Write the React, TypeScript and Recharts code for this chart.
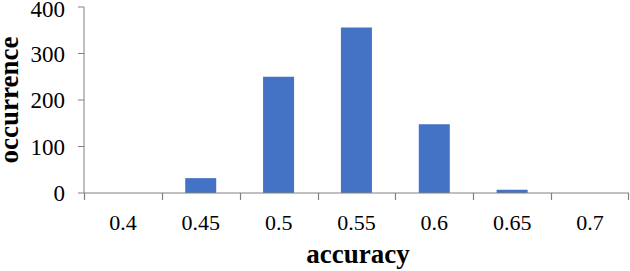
import { Bar, BarChart, Label, XAxis, YAxis } from 'recharts';

const categories = ['0.4', '0.45', '0.5', '0.55', '0.6', '0.65', '0.7'];
const occurrences = [0, 32, 250, 356, 148, 7, 0];
const yTicks = [0, 100, 200, 300, 400];

const data = categories.map((accuracy, i) => ({ accuracy, occurrence: occurrences[i] }));

const AXIS = '#808080';
const FONT = "'Liberation Serif', Tinos, 'Times New Roman', 'DejaVu Serif', serif";

// crisp 1px vertical line
const px = (v: number) => Math.round(v) + 0.5;

// x tick: label at the band centre, tick mark at the band's left edge (and right edge for the last one)
function renderCategoryTick(props: any) {
  const { x, y, payload, index } = props;
  const half = payload?.offset || 38.9;
  const last = index === categories.length - 1;
  return (
    <g key={`xt-${index}`}>
      <line x1={px(x - half)} y1={y} x2={px(x - half)} y2={y + 7} stroke={AXIS} strokeWidth={1.2} />
      {last && <line x1={px(x + half) - 1} y1={y} x2={px(x + half) - 1} y2={y + 7} stroke={AXIS} strokeWidth={1.2} />}
      <text
        x={x}
        y={y + 37}
        textAnchor="middle"
        fontFamily={FONT}
        fontSize={22}
        style={{ fontSize: 22, fontFamily: FONT, fontWeight: 'normal' }}
        fill="#000"
      >
        {payload.value}
      </text>
    </g>
  );
}

function renderYTick(props: any) {
  const { x, y, payload, index } = props;
  return (
    <text
      key={`yt-${index}`}
      x={x}
      y={y + 8}
      textAnchor="end"
      fontFamily={FONT}
      fontSize={23}
      style={{ fontSize: 23, fontFamily: FONT, fontWeight: 'normal' }}
      fill="#000"
    >
      {payload.value}
    </text>
  );
}

export default function App() {
  return (
    <div
      style={{
        position: 'fixed',
        left: 0,
        top: 0,
        width: 630,
        height: 271,
        background: '#fff',
        fontFamily: FONT,
      }}
    >
      <BarChart
        width={630}
        height={271}
        data={data}
        margin={{ top: 7, right: 1, left: 0, bottom: 0 }}
        barCategoryGap="30%"
      >
        <XAxis
          dataKey="accuracy"
          height={78}
          axisLine={{ stroke: AXIS }}
          tickLine={false}
          tickSize={0}
          tickMargin={0}
          tick={renderCategoryTick}
          interval={0}
        >
          <Label
            content={() => (
              <text
                x={358}
                y={263}
                textAnchor="middle"
                style={{ fontSize: 27, fontWeight: 'bold', fontFamily: FONT }}
                fill="#000"
              >
                accuracy
              </text>
            )}
          />
        </XAxis>
        <YAxis
          width={84}
          domain={[0, 400]}
          ticks={yTicks}
          axisLine={{ stroke: AXIS }}
          tickLine={{ stroke: AXIS }}
          tickSize={6}
          tickMargin={13}
          tick={renderYTick}
        >
          <Label
            content={() => (
              <text
                x={18}
                y={100}
                transform="rotate(-90 18 100)"
                textAnchor="middle"
                style={{ fontSize: 27, fontWeight: 'bold', fontFamily: FONT }}
                fill="#000"
              >
                occurrence
              </text>
            )}
          />
        </YAxis>
        <Bar dataKey="occurrence" fill="#4472C4" isAnimationActive={false} />
      </BarChart>
    </div>
  );
}
